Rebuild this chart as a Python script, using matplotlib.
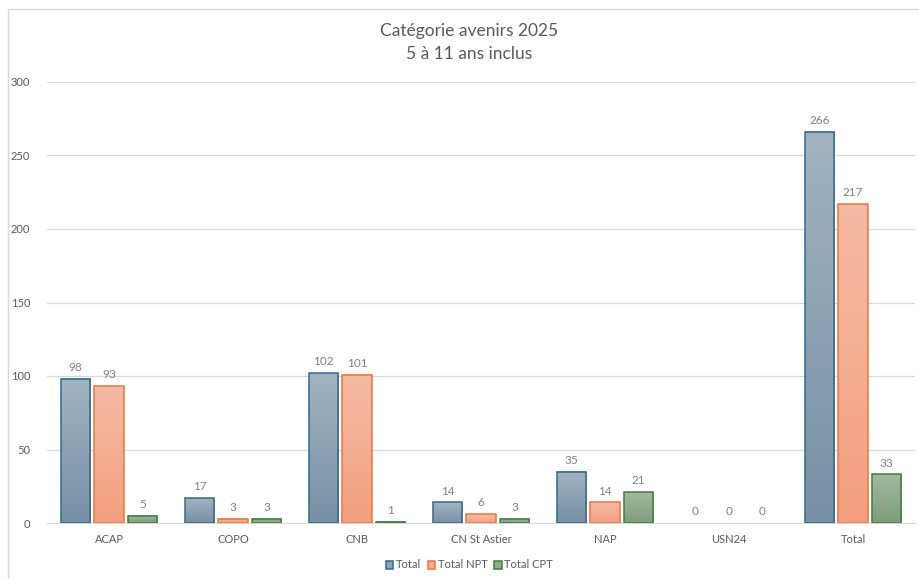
import numpy as np
import matplotlib
matplotlib.use("Agg")
import matplotlib.pyplot as plt
from matplotlib.colors import LinearSegmentedColormap
from matplotlib.patches import Rectangle

categories = ["ACAP", "COPO", "CNB", "CN St Astier", "NAP", "USN24", "Total"]
total = [98, 17, 102, 14, 35, 0, 266]
total_npt = [93, 3, 101, 6, 14, 0, 217]
total_cpt = [5, 3, 1, 3, 21, 0, 33]
series_names = ["Total", "Total NPT", "Total CPT"]

# (top colour, bottom colour, edge)
styles = [
    ("#a3b3c1", "#7790a6", "#2f6a8c"),
    ("#f6bba5", "#f4a07f", "#ef7536"),
    ("#a3b8a0", "#7d9d7a", "#3d7f3d"),
]

plt.rcParams["font.family"] = ["Lato", "DejaVu Sans"]

fig = plt.figure(figsize=(9.2, 5.79), dpi=100)
ax = fig.add_axes([47 / 920, 1 - 523 / 579, (915 - 47) / 920, 441 / 579])

x = np.arange(len(categories))
width = 0.235
offsets = [-0.27, 0, 0.27]
all_series = [total, total_npt, total_cpt]

handles = []
for vals, off, (top, bot, edge), name in zip(all_series, offsets, styles, series_names):
    cmap = LinearSegmentedColormap.from_list("g", [bot, top])
    grad = np.linspace(0, 1, 256).reshape(-1, 1)
    bars = ax.bar(x + off, vals, width, color=top, edgecolor=edge, linewidth=1.1,
                  zorder=3, label=name)
    for b, v in zip(bars, vals):
        if v > 0:
            b.set_facecolor("none")
            x0 = b.get_x()
            ax.imshow(grad, extent=(x0, x0 + width, 0, v), origin="lower",
                      aspect="auto", cmap=cmap, zorder=2.5)
        else:
            b.set_visible(False)
        ax.text(b.get_x() + width / 2, v + 4, str(v), ha="center", va="bottom",
                fontsize=8.5, color="#808080")
    handles.append(Rectangle((0, 0), 1, 1, facecolor=cmap(0.5), edgecolor=edge, linewidth=1.1))

ax.set_xlim(-0.5, len(categories) - 0.5)
ax.set_ylim(0, 300)
ax.set_yticks(range(0, 301, 50))
ax.set_xticks(x)
ax.set_xticklabels(categories)
ax.tick_params(axis="both", length=0, labelsize=8, colors="#595959")
ax.tick_params(axis="y", pad=12)
ax.tick_params(axis="x", pad=8)
ax.yaxis.grid(True, color="#d9d9d9", linewidth=0.9, zorder=0)
ax.set_axisbelow(True)
for s in ["top", "right", "left"]:
    ax.spines[s].set_visible(False)
ax.spines["bottom"].set_color("#d9d9d9")

fig.text(0.51, 1 - 31 / 579, "Catégorie avenirs 2025", ha="center", va="center",
         fontsize=12.5, color="#595959")
fig.text(0.51, 1 - 54 / 579, "5 à 11 ans inclus", ha="center", va="center",
         fontsize=12.5, color="#595959")

fig.legend(handles, series_names, loc="center", bbox_to_anchor=(0.51, 1 - 565 / 579),
           ncol=3, frameon=False, fontsize=8, handlelength=0.7, handleheight=0.7,
           handletextpad=0.2, columnspacing=0.6, labelcolor="#595959")

fig.patches.append(Rectangle((8 / 920, -0.1), 1.0, 1.1 - 9 / 579, transform=fig.transFigure,
                             fill=False, edgecolor="#d9d9d9", linewidth=1))

fig.savefig("out.png", dpi=100)
